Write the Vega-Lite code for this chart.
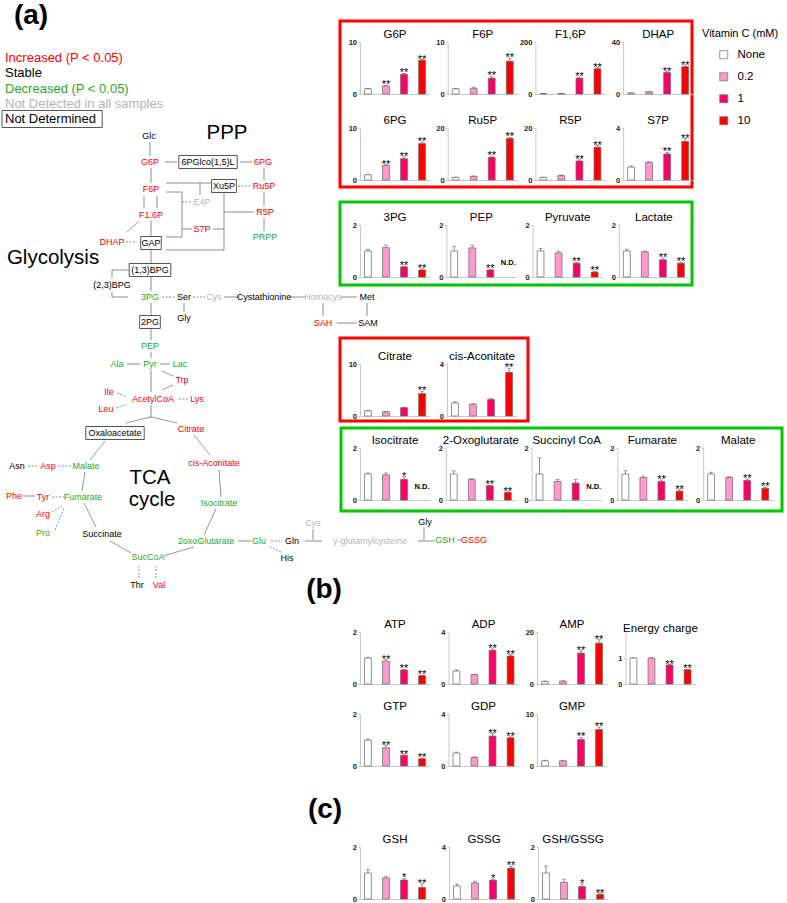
{
"$schema":"https://vega.github.io/schema/vega-lite/v6.json",
"background":"white",
"padding":0,
"autosize":{"type":"pad"},
"config":{
 "font":"Liberation Sans",
 "view":{"stroke":null},
 "axis":{"grid":false,"domainColor":"#c8c8c8","tickColor":"#c8c8c8","tickSize":2,"labelFontSize":7.5,"labelFontWeight":"bold","labelPadding":1.5,"labelColor":"#222222"},
 "axisY":{"minExtent":15},
 "axisX":{"labels":false,"ticks":false},
 "title":{"fontSize":11.5,"fontWeight":"normal","offset":-2},
 "range":{"category":["#ffffff","#ff99cc","#ff0066","#ff0000"]},
 "legend":{"orient":"none","legendX":702,"legendY":28,"symbolType":"square","symbolSize":64,"symbolStrokeColor":"#777777","symbolStrokeWidth":0.8,"labelFontSize":11.5,"titleFontSize":11,"titleFontWeight":"normal","titleColor":"#000000","labelColor":"#000000","rowPadding":9,"symbolOffset":16,"labelOffset":8,"titlePadding":10}
},
"datasets":{
 "frames":[
  {"x":340,"y":21,"x2":692,"y2":187,"s":"inc"},
  {"x":340,"y":202,"x2":692,"y2":285,"s":"dec"},
  {"x":340,"y":338,"x2":528,"y2":421,"s":"inc"},
  {"x":341,"y":428,"x2":782,"y2":511,"s":"dec"}
 ],
 "nodes":[
  {"l":"(a)","x":31,"y":16,"s":"stable","k":"lab"},
  {"l":"(b)","x":324,"y":590,"s":"stable","k":"lab"},
  {"l":"(c)","x":325,"y":810,"s":"stable","k":"lab"},
  {"l":"Increased (P < 0.05)","x":5,"y":58,"s":"inc","k":"leg"},
  {"l":"Stable","x":5,"y":73,"s":"stable","k":"leg"},
  {"l":"Decreased (P < 0.05)","x":5,"y":89,"s":"dec","k":"leg"},
  {"l":"Not Detected in all samples","x":5,"y":104,"s":"nd","k":"leg"},
  {"l":"Not Determined","x":5,"y":119,"s":"box","k":"leg"},
  {"l":"PPP","x":227,"y":133,"s":"stable","k":"big"},
  {"l":"Glycolysis","x":53,"y":258,"s":"stable","k":"big"},
  {"l":"TCA","x":150,"y":478,"s":"stable","k":"big"},
  {"l":"cycle","x":152,"y":500,"s":"stable","k":"big"},
  {"l":"Glc","x":149,"y":136,"s":"stable","k":"n"},
  {"l":"G6P","x":150,"y":162,"s":"inc","k":"n"},
  {"l":"6PGlco(1,5)L","x":208,"y":162,"s":"box","k":"n"},
  {"l":"6PG","x":263,"y":162,"s":"inc","k":"n"},
  {"l":"F6P","x":151,"y":189,"s":"inc","k":"n"},
  {"l":"Xu5P","x":224,"y":186,"s":"box","k":"n"},
  {"l":"Ru5P","x":264,"y":186,"s":"inc","k":"n"},
  {"l":"E4P","x":202,"y":202,"s":"nd","k":"n"},
  {"l":"R5P","x":265,"y":212,"s":"inc","k":"n"},
  {"l":"F1,6P","x":151,"y":215,"s":"inc","k":"n"},
  {"l":"S7P","x":202,"y":229,"s":"inc","k":"n"},
  {"l":"PRPP","x":265,"y":237,"s":"dec","k":"n"},
  {"l":"DHAP","x":112,"y":242,"s":"inc","k":"n"},
  {"l":"GAP","x":151,"y":243,"s":"box","k":"n"},
  {"l":"(1,3)BPG","x":150,"y":270,"s":"box","k":"n"},
  {"l":"(2,3)BPG","x":112,"y":285,"s":"stable","k":"n"},
  {"l":"3PG","x":150,"y":297,"s":"dec","k":"n"},
  {"l":"Ser","x":184,"y":297,"s":"stable","k":"n"},
  {"l":"Cys","x":214,"y":297,"s":"nd","k":"n"},
  {"l":"Cystathionine","x":264,"y":297,"s":"stable","k":"n"},
  {"l":"Homocys","x":323,"y":297,"s":"nd","k":"n"},
  {"l":"Met","x":367,"y":297,"s":"stable","k":"n"},
  {"l":"Gly","x":184,"y":318,"s":"stable","k":"n"},
  {"l":"2PG","x":150,"y":322,"s":"box","k":"n"},
  {"l":"SAH","x":323,"y":323,"s":"inc","k":"n"},
  {"l":"SAM","x":368,"y":323,"s":"stable","k":"n"},
  {"l":"PEP","x":150,"y":346,"s":"dec","k":"n"},
  {"l":"Ala","x":117,"y":364,"s":"dec","k":"n"},
  {"l":"Pyr","x":150,"y":364,"s":"dec","k":"n"},
  {"l":"Lac","x":180,"y":364,"s":"dec","k":"n"},
  {"l":"Trp","x":182,"y":380,"s":"inc","k":"n"},
  {"l":"Ile","x":109,"y":392,"s":"inc","k":"n"},
  {"l":"AcetylCoA","x":153,"y":399,"s":"inc","k":"n"},
  {"l":"Lys","x":197,"y":399,"s":"inc","k":"n"},
  {"l":"Leu","x":106,"y":409,"s":"inc","k":"n"},
  {"l":"Oxaloacetate","x":115,"y":433,"s":"box","k":"n"},
  {"l":"Citrate","x":191,"y":429,"s":"inc","k":"n"},
  {"l":"Asn","x":17,"y":466,"s":"stable","k":"n"},
  {"l":"Asp","x":48,"y":466,"s":"inc","k":"n"},
  {"l":"Malate","x":86,"y":466,"s":"dec","k":"n"},
  {"l":"cis-Aconitate","x":214,"y":463,"s":"inc","k":"n"},
  {"l":"Phe","x":14,"y":496,"s":"inc","k":"n"},
  {"l":"Tyr","x":43,"y":497,"s":"inc","k":"n"},
  {"l":"Fumarate","x":83,"y":497,"s":"dec","k":"n"},
  {"l":"Isocitrate","x":219,"y":503,"s":"dec","k":"n"},
  {"l":"Arg","x":43,"y":514,"s":"inc","k":"n"},
  {"l":"Pro","x":43,"y":533,"s":"dec","k":"n"},
  {"l":"Succinate","x":102,"y":534,"s":"stable","k":"n"},
  {"l":"Cys","x":313,"y":523,"s":"nd","k":"n"},
  {"l":"Gly","x":425,"y":522,"s":"stable","k":"n"},
  {"l":"2oxoGlutarate","x":206,"y":541,"s":"dec","k":"n"},
  {"l":"Glu","x":259,"y":541,"s":"dec","k":"n"},
  {"l":"Gln","x":292,"y":541,"s":"stable","k":"n"},
  {"l":"γ-glutamylcysteine","x":370,"y":541,"s":"nd","k":"n"},
  {"l":"GSH","x":445,"y":540,"s":"dec","k":"n"},
  {"l":"GSSG","x":474,"y":540,"s":"inc","k":"n"},
  {"l":"SucCoA","x":148,"y":557,"s":"dec","k":"n"},
  {"l":"His","x":287,"y":558,"s":"stable","k":"n"},
  {"l":"Thr","x":137,"y":585,"s":"stable","k":"n"},
  {"l":"Val","x":159,"y":585,"s":"inc","k":"n"}
 ],
 "edges":[
  {"x":150,"y":142,"x2":150,"y2":156,"d":"s"},
  {"x":165,"y":162,"x2":177,"y2":162,"d":"s"},
  {"x":240,"y":162,"x2":252,"y2":162,"d":"s"},
  {"x":264,"y":168,"x2":264,"y2":180,"d":"s"},
  {"x":151,"y":168,"x2":151,"y2":183,"d":"s"},
  {"x":238,"y":186,"x2":251,"y2":186,"d":"d"},
  {"x":264,"y":192,"x2":264,"y2":206,"d":"s"},
  {"x":264,"y":218,"x2":264,"y2":231,"d":"s"},
  {"x":157,"y":196,"x2":157,"y2":208,"d":"s"},
  {"x":144,"y":208,"x2":144,"y2":196,"d":"s"},
  {"x":151,"y":221,"x2":151,"y2":236,"d":"s"},
  {"x":127,"y":232,"x2":139,"y2":221,"d":"s"},
  {"x":126,"y":242,"x2":137,"y2":242,"d":"d"},
  {"x":151,"y":250,"x2":151,"y2":263,"d":"s"},
  {"x":151,"y":277,"x2":151,"y2":291,"d":"s"},
  {"x":151,"y":303,"x2":151,"y2":315,"d":"s"},
  {"x":151,"y":329,"x2":151,"y2":340,"d":"s"},
  {"x":151,"y":352,"x2":151,"y2":358,"d":"s"},
  {"x":129,"y":270,"x2":112,"y2":270,"d":"s"},
  {"x":112,"y":270,"x2":112,"y2":278,"d":"s"},
  {"x":112,"y":292,"x2":112,"y2":297,"d":"s"},
  {"x":112,"y":297,"x2":128,"y2":297,"d":"s"},
  {"x":166,"y":183,"x2":211,"y2":183,"d":"s"},
  {"x":200,"y":183,"x2":200,"y2":195,"d":"s"},
  {"x":166,"y":192,"x2":182,"y2":192,"d":"s"},
  {"x":182,"y":192,"x2":182,"y2":237,"d":"s"},
  {"x":182,"y":237,"x2":166,"y2":237,"d":"s"},
  {"x":182,"y":202,"x2":193,"y2":202,"d":"d"},
  {"x":182,"y":229,"x2":192,"y2":229,"d":"s"},
  {"x":224,"y":193,"x2":224,"y2":250,"d":"s"},
  {"x":224,"y":250,"x2":166,"y2":250,"d":"s"},
  {"x":224,"y":212,"x2":254,"y2":212,"d":"s"},
  {"x":224,"y":229,"x2":213,"y2":229,"d":"s"},
  {"x":162,"y":297,"x2":176,"y2":297,"d":"d"},
  {"x":193,"y":297,"x2":205,"y2":297,"d":"d"},
  {"x":240,"y":297,"x2":224,"y2":297,"d":"s"},
  {"x":305,"y":297,"x2":289,"y2":297,"d":"s"},
  {"x":341,"y":297,"x2":357,"y2":297,"d":"s"},
  {"x":367,"y":303,"x2":367,"y2":316,"d":"s"},
  {"x":357,"y":323,"x2":337,"y2":323,"d":"s"},
  {"x":323,"y":316,"x2":323,"y2":303,"d":"s"},
  {"x":184,"y":303,"x2":184,"y2":312,"d":"s"},
  {"x":127,"y":364,"x2":140,"y2":364,"d":"s"},
  {"x":160,"y":364,"x2":170,"y2":364,"d":"s"},
  {"x":151,"y":370,"x2":151,"y2":392,"d":"s"},
  {"x":173,"y":376,"x2":162,"y2":371,"d":"s"},
  {"x":173,"y":385,"x2":162,"y2":390,"d":"s"},
  {"x":117,"y":393,"x2":127,"y2":397,"d":"d"},
  {"x":117,"y":408,"x2":127,"y2":404,"d":"d"},
  {"x":188,"y":399,"x2":178,"y2":399,"d":"d"},
  {"x":151,"y":405,"x2":151,"y2":417,"d":"s"},
  {"x":151,"y":417,"x2":126,"y2":423,"d":"s"},
  {"x":151,"y":417,"x2":177,"y2":423,"d":"s"},
  {"x":194,"y":435,"x2":210,"y2":455,"d":"s"},
  {"x":219,"y":470,"x2":221,"y2":497,"d":"s"},
  {"x":216,"y":509,"x2":204,"y2":535,"d":"s"},
  {"x":194,"y":547,"x2":163,"y2":556,"d":"s"},
  {"x":131,"y":553,"x2":110,"y2":541,"d":"s"},
  {"x":96,"y":527,"x2":84,"y2":503,"d":"s"},
  {"x":82,"y":491,"x2":85,"y2":472,"d":"s"},
  {"x":90,"y":460,"x2":105,"y2":441,"d":"s"},
  {"x":28,"y":466,"x2":37,"y2":466,"d":"d"},
  {"x":58,"y":466,"x2":71,"y2":466,"d":"d"},
  {"x":23,"y":496,"x2":35,"y2":496,"d":"s"},
  {"x":52,"y":497,"x2":64,"y2":497,"d":"d"},
  {"x":52,"y":512,"x2":62,"y2":506,"d":"d"},
  {"x":55,"y":530,"x2":64,"y2":508,"d":"d"},
  {"x":139,"y":578,"x2":139,"y2":566,"d":"d"},
  {"x":156,"y":578,"x2":156,"y2":566,"d":"d"},
  {"x":238,"y":541,"x2":251,"y2":541,"d":"s"},
  {"x":271,"y":541,"x2":282,"y2":541,"d":"d"},
  {"x":281,"y":552,"x2":268,"y2":546,"d":"d"},
  {"x":305,"y":541,"x2":322,"y2":541,"d":"s"},
  {"x":313,"y":529,"x2":313,"y2":540,"d":"s"},
  {"x":418,"y":541,"x2":435,"y2":541,"d":"s"},
  {"x":424,"y":527,"x2":424,"y2":540,"d":"s"},
  {"x":457,"y":540,"x2":462,"y2":540,"d":"s"}
 ],
 "bars":[
  {"m":"G6P","c":"None","v":1.0,"e":0.08},{"m":"G6P","c":"0.2","v":1.55,"e":0.12,"g":"**"},{"m":"G6P","c":"1","v":3.8,"e":0.15,"g":"**"},{"m":"G6P","c":"10","v":6.5,"e":0.12,"g":"**"},
  {"m":"F6P","c":"None","v":1.0,"e":0.08},{"m":"F6P","c":"0.2","v":1.1,"e":0.2},{"m":"F6P","c":"1","v":3.05,"e":0.35,"g":"**"},{"m":"F6P","c":"10","v":6.3,"e":0.6,"g":"**"},
  {"m":"F1,6P","c":"None","v":1.5,"e":0.3},{"m":"F1,6P","c":"0.2","v":1.5,"e":0.3},{"m":"F1,6P","c":"1","v":61,"e":3,"g":"**"},{"m":"F1,6P","c":"10","v":97,"e":4,"g":"**"},
  {"m":"DHAP","c":"None","v":0.8,"e":0.2},{"m":"DHAP","c":"0.2","v":1.7,"e":0.3},{"m":"DHAP","c":"1","v":16.5,"e":0.6,"g":"**"},{"m":"DHAP","c":"10","v":21,"e":0.5,"g":"**"},
  {"m":"6PG","c":"None","v":1.0,"e":0.08},{"m":"6PG","c":"0.2","v":2.8,"e":0.12,"g":"**"},{"m":"6PG","c":"1","v":4.1,"e":0.35,"g":"**"},{"m":"6PG","c":"10","v":7.0,"e":0.3,"g":"**"},
  {"m":"Ru5P","c":"None","v":1.0,"e":0.1},{"m":"Ru5P","c":"0.2","v":1.4,"e":0.15},{"m":"Ru5P","c":"1","v":8.7,"e":0.45,"g":"**"},{"m":"Ru5P","c":"10","v":16,"e":0.4,"g":"**"},
  {"m":"R5P","c":"None","v":1.0,"e":0.1},{"m":"R5P","c":"0.2","v":1.7,"e":0.2},{"m":"R5P","c":"1","v":7.3,"e":0.45,"g":"**"},{"m":"R5P","c":"10","v":12.6,"e":0.6,"g":"**"},
  {"m":"S7P","c":"None","v":1.0,"e":0.08},{"m":"S7P","c":"0.2","v":1.35,"e":0.05},{"m":"S7P","c":"1","v":2.0,"e":0.12,"g":"**"},{"m":"S7P","c":"10","v":2.97,"e":0.22,"g":"**"},
  {"m":"3PG","c":"None","v":1.0,"e":0.07},{"m":"3PG","c":"0.2","v":1.13,"e":0.1},{"m":"3PG","c":"1","v":0.39,"e":0.03,"g":"**"},{"m":"3PG","c":"10","v":0.27,"e":0.04,"g":"**"},
  {"m":"PEP","c":"None","v":1.0,"e":0.18},{"m":"PEP","c":"0.2","v":1.12,"e":0.1},{"m":"PEP","c":"1","v":0.27,"e":0.03,"g":"**"},{"m":"PEP","c":"10","nd":"N.D."},
  {"m":"Pyruvate","c":"None","v":1.0,"e":0.1},{"m":"Pyruvate","c":"0.2","v":0.93,"e":0.07},{"m":"Pyruvate","c":"1","v":0.53,"e":0.03,"g":"**"},{"m":"Pyruvate","c":"10","v":0.19,"e":0.03,"g":"**"},
  {"m":"Lactate","c":"None","v":1.0,"e":0.07},{"m":"Lactate","c":"0.2","v":0.97,"e":0.03},{"m":"Lactate","c":"1","v":0.66,"e":0.07,"g":"**"},{"m":"Lactate","c":"10","v":0.53,"e":0.04,"g":"**"},
  {"m":"Citrate","c":"None","v":1.0,"e":0.08},{"m":"Citrate","c":"0.2","v":0.8,"e":0.05},{"m":"Citrate","c":"1","v":1.6,"e":0.1},{"m":"Citrate","c":"10","v":4.3,"e":0.45,"g":"**"},
  {"m":"cis-Aconitate","c":"None","v":1.0,"e":0.1},{"m":"cis-Aconitate","c":"0.2","v":0.9,"e":0.04},{"m":"cis-Aconitate","c":"1","v":1.27,"e":0.06},{"m":"cis-Aconitate","c":"10","v":3.35,"e":0.33,"g":"**"},
  {"m":"Isocitrate","c":"None","v":1.0,"e":0.04},{"m":"Isocitrate","c":"0.2","v":0.97,"e":0.07},{"m":"Isocitrate","c":"1","v":0.79,"e":0.1,"g":"*"},{"m":"Isocitrate","c":"10","nd":"N.D."},
  {"m":"2-Oxoglutarate","c":"None","v":1.0,"e":0.12},{"m":"2-Oxoglutarate","c":"0.2","v":0.79,"e":0.03},{"m":"2-Oxoglutarate","c":"1","v":0.55,"e":0.02,"g":"**"},{"m":"2-Oxoglutarate","c":"10","v":0.29,"e":0.02,"g":"**"},
  {"m":"Succinyl CoA","c":"None","v":1.0,"e":0.62},{"m":"Succinyl CoA","c":"0.2","v":0.71,"e":0.08},{"m":"Succinyl CoA","c":"1","v":0.65,"e":0.14},{"m":"Succinyl CoA","c":"10","nd":"N.D."},
  {"m":"Fumarate","c":"None","v":1.0,"e":0.13},{"m":"Fumarate","c":"0.2","v":0.86,"e":0.06},{"m":"Fumarate","c":"1","v":0.71,"e":0.06,"g":"**"},{"m":"Fumarate","c":"10","v":0.34,"e":0.05,"g":"**"},
  {"m":"Malate","c":"None","v":1.0,"e":0.07},{"m":"Malate","c":"0.2","v":0.87,"e":0.02},{"m":"Malate","c":"1","v":0.75,"e":0.05,"g":"**"},{"m":"Malate","c":"10","v":0.45,"e":0.04,"g":"**"},
  {"m":"ATP","c":"None","v":1.0,"e":0.03},{"m":"ATP","c":"0.2","v":0.88,"e":0.05,"g":"**"},{"m":"ATP","c":"1","v":0.54,"e":0.02,"g":"**"},{"m":"ATP","c":"10","v":0.32,"e":0.02,"g":"**"},
  {"m":"ADP","c":"None","v":1.0,"e":0.1},{"m":"ADP","c":"0.2","v":0.72,"e":0.03},{"m":"ADP","c":"1","v":2.6,"e":0.1,"g":"**"},{"m":"ADP","c":"10","v":2.15,"e":0.1,"g":"**"},
  {"m":"AMP","c":"None","v":1.0,"e":0.15},{"m":"AMP","c":"0.2","v":1.1,"e":0.1},{"m":"AMP","c":"1","v":11.9,"e":0.8,"g":"**"},{"m":"AMP","c":"10","v":15.7,"e":1.3,"g":"**"},
  {"m":"Energy charge","c":"None","v":1.0,"e":0.01},{"m":"Energy charge","c":"0.2","v":1.0,"e":0.01},{"m":"Energy charge","c":"1","v":0.73,"e":0.02,"g":"**"},{"m":"Energy charge","c":"10","v":0.55,"e":0.02,"g":"**"},
  {"m":"GTP","c":"None","v":1.0,"e":0.03},{"m":"GTP","c":"0.2","v":0.7,"e":0.08,"g":"**"},{"m":"GTP","c":"1","v":0.41,"e":0.02,"g":"**"},{"m":"GTP","c":"10","v":0.28,"e":0.02,"g":"**"},
  {"m":"GDP","c":"None","v":1.0,"e":0.07},{"m":"GDP","c":"0.2","v":0.66,"e":0.04},{"m":"GDP","c":"1","v":2.3,"e":0.2,"g":"**"},{"m":"GDP","c":"10","v":2.17,"e":0.07,"g":"**"},
  {"m":"GMP","c":"None","v":1.0,"e":0.1},{"m":"GMP","c":"0.2","v":1.0,"e":0.05},{"m":"GMP","c":"1","v":5.1,"e":0.4,"g":"**"},{"m":"GMP","c":"10","v":7.0,"e":0.5,"g":"**"},
  {"m":"GSH","c":"None","v":1.0,"e":0.14},{"m":"GSH","c":"0.2","v":0.81,"e":0.05},{"m":"GSH","c":"1","v":0.73,"e":0.07,"g":"*"},{"m":"GSH","c":"10","v":0.44,"e":0.14,"g":"**"},
  {"m":"GSSG","c":"None","v":1.0,"e":0.15},{"m":"GSSG","c":"0.2","v":1.24,"e":0.13},{"m":"GSSG","c":"1","v":1.45,"e":0.08,"g":"*"},{"m":"GSSG","c":"10","v":2.37,"e":0.15,"g":"**"},
  {"m":"GSH/GSSG","c":"None","v":1.0,"e":0.27},{"m":"GSH/GSSG","c":"0.2","v":0.64,"e":0.12},{"m":"GSH/GSSG","c":"1","v":0.48,"e":0.1,"g":"*"},{"m":"GSH/GSSG","c":"10","v":0.17,"e":0.04,"g":"**"}
 ]
},
"bounds":"flush",
"spacing":30,
"hconcat":[
 {
  "width":330,"height":600,
  "encoding":{
   "x":{"field":"x","type":"quantitative","scale":{"domain":[0,330],"nice":false,"zero":false},"axis":null},
   "y":{"field":"y","type":"quantitative","scale":{"domain":[0,600],"nice":false,"zero":false,"reverse":true},"axis":null}
  },
  "layer":[
   {"data":{"name":"frames"},"mark":{"type":"rect","fillOpacity":0,"strokeWidth":3},
    "encoding":{"x2":{"field":"x2"},"y2":{"field":"y2"},"stroke":{"field":"s","type":"nominal","scale":{"domain":["inc","dec"],"range":["#ff0000","#00c800"]},"legend":null}}},
   {"data":{"name":"edges"},"mark":{"type":"rule","color":"#6e6e6e","strokeWidth":0.8},
    "encoding":{"x2":{"field":"x2"},"y2":{"field":"y2"},"strokeDash":{"field":"d","type":"nominal","scale":{"domain":["s","d"],"range":[[1,0],[2,1.5]]},"legend":null}}},
   {"data":{"name":"nodes"},
    "transform":[{"filter":"datum.s==='box'"},
     {"calculate":"datum.k==='leg' ? 6.8*length(datum.l)+5 : 4.2*length(datum.l)+8","as":"bw"},
     {"calculate":"datum.k==='leg' ? datum.x-3 : datum.x-datum.bw/2","as":"xa"},
     {"calculate":"datum.xa+datum.bw","as":"x2"},
     {"calculate":"datum.xa","as":"x"},
     {"calculate":"datum.k==='leg' ? 8.5 : 6.5","as":"hh"},
     {"calculate":"datum.y+datum.hh","as":"y2"},
     {"calculate":"datum.y-datum.hh","as":"y"}],
    "mark":{"type":"rect","fill":"#ffffff","stroke":"#555555","strokeWidth":1},
    "encoding":{"x2":{"field":"x2"},"y2":{"field":"y2"}}},
   {"data":{"name":"nodes"},"transform":[{"filter":"datum.k==='n'"}],
    "mark":{"type":"text","fontSize":9,"align":"center","baseline":"middle"},
    "encoding":{"text":{"field":"l"},"color":{"field":"s","type":"nominal","scale":{"domain":["inc","stable","dec","nd","box"],"range":["#ff0000","#000000","#1fa81f","#b4b4b4","#000000"]},"legend":null}}},
   {"data":{"name":"nodes"},"transform":[{"filter":"datum.k==='big'"}],
    "mark":{"type":"text","fontSize":20.5,"align":"center","baseline":"middle"},
    "encoding":{"text":{"field":"l"},"color":{"field":"s","type":"nominal","legend":null}}},
   {"data":{"name":"nodes"},"transform":[{"filter":"datum.k==='lab'"}],
    "mark":{"type":"text","fontSize":28,"fontWeight":"bold","align":"center","baseline":"middle"},
    "encoding":{"text":{"field":"l"},"color":{"field":"s","type":"nominal","legend":null}}},
   {"data":{"name":"nodes"},"transform":[{"filter":"datum.k==='leg'"}],
    "mark":{"type":"text","fontSize":13,"align":"left","baseline":"middle"},
    "encoding":{"text":{"field":"l"},"color":{"field":"s","type":"nominal","legend":null}}}
  ]
 },
 {
  "data":{"name":"bars"},
  "transform":[{"calculate":"isValid(datum.v) ? datum.v + datum.e : null","as":"hi"}],
  "spacing":0,
  "vconcat":[
   {"width":10,"height":28,"mark":{"type":"point","opacity":0,"size":1}},
   {"bounds":"flush","spacing":17.7,"hconcat":[
    {"title":"G6P","width":70,"height":52,"transform":[{"filter":"datum.m==='G6P'"}],
     "encoding":{"x":{"field":"c","type":"nominal","title":null,"scale":{"domain":["None","0.2","1","10"],"paddingInner":0.62,"paddingOuter":0.25}}},
     "layer":[{"mark":{"type":"bar","stroke":"#666666","strokeWidth":0.7},"encoding":{"y":{"field":"v","type":"quantitative","title":null,"scale":{"domain":[0,10],"nice":false},"axis":{"values":[0,5,10],"format":"d"}},"fill":{"field":"c","type":"nominal","title":"Vitamin C (mM)","scale":{"domain":["None","0.2","1","10"]}}}},
      {"mark":{"type":"rule","color":"#666666","strokeWidth":0.8},"encoding":{"y":{"field":"v","type":"quantitative","title":null},"y2":{"field":"hi"}}},
      {"mark":{"type":"tick","color":"#666666","thickness":0.8,"size":4},"encoding":{"y":{"field":"hi","type":"quantitative","title":null}}},
      {"transform":[{"filter":"isValid(datum.g)"}],"mark":{"type":"text","fill":"#000000","baseline":"alphabetic","dy":3,"fontSize":11},"encoding":{"y":{"field":"hi","type":"quantitative","title":null},"text":{"field":"g"}}}]},
    {"title":"F6P","width":70,"height":52,"transform":[{"filter":"datum.m==='F6P'"}],
     "encoding":{"x":{"field":"c","type":"nominal","title":null,"scale":{"domain":["None","0.2","1","10"],"paddingInner":0.62,"paddingOuter":0.25}}},
     "layer":[{"mark":{"type":"bar","stroke":"#666666","strokeWidth":0.7},"encoding":{"y":{"field":"v","type":"quantitative","title":null,"scale":{"domain":[0,10],"nice":false},"axis":{"values":[0,5,10],"format":"d"}},"fill":{"field":"c","type":"nominal","title":"Vitamin C (mM)","scale":{"domain":["None","0.2","1","10"]}}}},
      {"mark":{"type":"rule","color":"#666666","strokeWidth":0.8},"encoding":{"y":{"field":"v","type":"quantitative","title":null},"y2":{"field":"hi"}}},
      {"mark":{"type":"tick","color":"#666666","thickness":0.8,"size":4},"encoding":{"y":{"field":"hi","type":"quantitative","title":null}}},
      {"transform":[{"filter":"isValid(datum.g)"}],"mark":{"type":"text","fill":"#000000","baseline":"alphabetic","dy":3,"fontSize":11},"encoding":{"y":{"field":"hi","type":"quantitative","title":null},"text":{"field":"g"}}}]},
    {"title":"F1,6P","width":70,"height":52,"transform":[{"filter":"datum.m==='F1,6P'"}],
     "encoding":{"x":{"field":"c","type":"nominal","title":null,"scale":{"domain":["None","0.2","1","10"],"paddingInner":0.62,"paddingOuter":0.25}}},
     "layer":[{"mark":{"type":"bar","stroke":"#666666","strokeWidth":0.7},"encoding":{"y":{"field":"v","type":"quantitative","title":null,"scale":{"domain":[0,200],"nice":false},"axis":{"values":[0,100,200],"format":"d"}},"fill":{"field":"c","type":"nominal","title":"Vitamin C (mM)","scale":{"domain":["None","0.2","1","10"]}}}},
      {"mark":{"type":"rule","color":"#666666","strokeWidth":0.8},"encoding":{"y":{"field":"v","type":"quantitative","title":null},"y2":{"field":"hi"}}},
      {"mark":{"type":"tick","color":"#666666","thickness":0.8,"size":4},"encoding":{"y":{"field":"hi","type":"quantitative","title":null}}},
      {"transform":[{"filter":"isValid(datum.g)"}],"mark":{"type":"text","fill":"#000000","baseline":"alphabetic","dy":3,"fontSize":11},"encoding":{"y":{"field":"hi","type":"quantitative","title":null},"text":{"field":"g"}}}]},
    {"title":"DHAP","width":70,"height":52,"transform":[{"filter":"datum.m==='DHAP'"}],
     "encoding":{"x":{"field":"c","type":"nominal","title":null,"scale":{"domain":["None","0.2","1","10"],"paddingInner":0.62,"paddingOuter":0.25}}},
     "layer":[{"mark":{"type":"bar","stroke":"#666666","strokeWidth":0.7},"encoding":{"y":{"field":"v","type":"quantitative","title":null,"scale":{"domain":[0,40],"nice":false},"axis":{"values":[0,20,40],"format":"d"}},"fill":{"field":"c","type":"nominal","title":"Vitamin C (mM)","scale":{"domain":["None","0.2","1","10"]}}}},
      {"mark":{"type":"rule","color":"#666666","strokeWidth":0.8},"encoding":{"y":{"field":"v","type":"quantitative","title":null},"y2":{"field":"hi"}}},
      {"mark":{"type":"tick","color":"#666666","thickness":0.8,"size":4},"encoding":{"y":{"field":"hi","type":"quantitative","title":null}}},
      {"transform":[{"filter":"isValid(datum.g)"}],"mark":{"type":"text","fill":"#000000","baseline":"alphabetic","dy":3,"fontSize":11},"encoding":{"y":{"field":"hi","type":"quantitative","title":null},"text":{"field":"g"}}}]}
   ]},
   {"width":10,"height":16,"mark":{"type":"point","opacity":0,"size":1}},
   {"bounds":"flush","spacing":17.7,"hconcat":[
    {"title":"6PG","width":70,"height":52,"transform":[{"filter":"datum.m==='6PG'"}],
     "encoding":{"x":{"field":"c","type":"nominal","title":null,"scale":{"domain":["None","0.2","1","10"],"paddingInner":0.62,"paddingOuter":0.25}}},
     "layer":[{"mark":{"type":"bar","stroke":"#666666","strokeWidth":0.7},"encoding":{"y":{"field":"v","type":"quantitative","title":null,"scale":{"domain":[0,10],"nice":false},"axis":{"values":[0,5,10],"format":"d"}},"fill":{"field":"c","type":"nominal","title":"Vitamin C (mM)","scale":{"domain":["None","0.2","1","10"]}}}},
      {"mark":{"type":"rule","color":"#666666","strokeWidth":0.8},"encoding":{"y":{"field":"v","type":"quantitative","title":null},"y2":{"field":"hi"}}},
      {"mark":{"type":"tick","color":"#666666","thickness":0.8,"size":4},"encoding":{"y":{"field":"hi","type":"quantitative","title":null}}},
      {"transform":[{"filter":"isValid(datum.g)"}],"mark":{"type":"text","fill":"#000000","baseline":"alphabetic","dy":3,"fontSize":11},"encoding":{"y":{"field":"hi","type":"quantitative","title":null},"text":{"field":"g"}}}]},
    {"title":"Ru5P","width":70,"height":52,"transform":[{"filter":"datum.m==='Ru5P'"}],
     "encoding":{"x":{"field":"c","type":"nominal","title":null,"scale":{"domain":["None","0.2","1","10"],"paddingInner":0.62,"paddingOuter":0.25}}},
     "layer":[{"mark":{"type":"bar","stroke":"#666666","strokeWidth":0.7},"encoding":{"y":{"field":"v","type":"quantitative","title":null,"scale":{"domain":[0,20],"nice":false},"axis":{"values":[0,10,20],"format":"d"}},"fill":{"field":"c","type":"nominal","title":"Vitamin C (mM)","scale":{"domain":["None","0.2","1","10"]}}}},
      {"mark":{"type":"rule","color":"#666666","strokeWidth":0.8},"encoding":{"y":{"field":"v","type":"quantitative","title":null},"y2":{"field":"hi"}}},
      {"mark":{"type":"tick","color":"#666666","thickness":0.8,"size":4},"encoding":{"y":{"field":"hi","type":"quantitative","title":null}}},
      {"transform":[{"filter":"isValid(datum.g)"}],"mark":{"type":"text","fill":"#000000","baseline":"alphabetic","dy":3,"fontSize":11},"encoding":{"y":{"field":"hi","type":"quantitative","title":null},"text":{"field":"g"}}}]},
    {"title":"R5P","width":70,"height":52,"transform":[{"filter":"datum.m==='R5P'"}],
     "encoding":{"x":{"field":"c","type":"nominal","title":null,"scale":{"domain":["None","0.2","1","10"],"paddingInner":0.62,"paddingOuter":0.25}}},
     "layer":[{"mark":{"type":"bar","stroke":"#666666","strokeWidth":0.7},"encoding":{"y":{"field":"v","type":"quantitative","title":null,"scale":{"domain":[0,20],"nice":false},"axis":{"values":[0,10,20],"format":"d"}},"fill":{"field":"c","type":"nominal","title":"Vitamin C (mM)","scale":{"domain":["None","0.2","1","10"]}}}},
      {"mark":{"type":"rule","color":"#666666","strokeWidth":0.8},"encoding":{"y":{"field":"v","type":"quantitative","title":null},"y2":{"field":"hi"}}},
      {"mark":{"type":"tick","color":"#666666","thickness":0.8,"size":4},"encoding":{"y":{"field":"hi","type":"quantitative","title":null}}},
      {"transform":[{"filter":"isValid(datum.g)"}],"mark":{"type":"text","fill":"#000000","baseline":"alphabetic","dy":3,"fontSize":11},"encoding":{"y":{"field":"hi","type":"quantitative","title":null},"text":{"field":"g"}}}]},
    {"title":"S7P","width":70,"height":52,"transform":[{"filter":"datum.m==='S7P'"}],
     "encoding":{"x":{"field":"c","type":"nominal","title":null,"scale":{"domain":["None","0.2","1","10"],"paddingInner":0.62,"paddingOuter":0.25}}},
     "layer":[{"mark":{"type":"bar","stroke":"#666666","strokeWidth":0.7},"encoding":{"y":{"field":"v","type":"quantitative","title":null,"scale":{"domain":[0,4],"nice":false},"axis":{"values":[0,2,4],"format":"d"}},"fill":{"field":"c","type":"nominal","title":"Vitamin C (mM)","scale":{"domain":["None","0.2","1","10"]}}}},
      {"mark":{"type":"rule","color":"#666666","strokeWidth":0.8},"encoding":{"y":{"field":"v","type":"quantitative","title":null},"y2":{"field":"hi"}}},
      {"mark":{"type":"tick","color":"#666666","thickness":0.8,"size":4},"encoding":{"y":{"field":"hi","type":"quantitative","title":null}}},
      {"transform":[{"filter":"isValid(datum.g)"}],"mark":{"type":"text","fill":"#000000","baseline":"alphabetic","dy":3,"fontSize":11},"encoding":{"y":{"field":"hi","type":"quantitative","title":null},"text":{"field":"g"}}}]}
   ]},
   {"width":10,"height":27,"mark":{"type":"point","opacity":0,"size":1}},
   {"bounds":"flush","spacing":16.3,"hconcat":[
    {"title":"3PG","width":70,"height":52,"transform":[{"filter":"datum.m==='3PG'"}],
     "encoding":{"x":{"field":"c","type":"nominal","title":null,"scale":{"domain":["None","0.2","1","10"],"paddingInner":0.62,"paddingOuter":0.25}}},
     "layer":[{"mark":{"type":"bar","stroke":"#666666","strokeWidth":0.7},"encoding":{"y":{"field":"v","type":"quantitative","title":null,"scale":{"domain":[0,2],"nice":false},"axis":{"values":[0,1,2],"format":"d"}},"fill":{"field":"c","type":"nominal","title":"Vitamin C (mM)","scale":{"domain":["None","0.2","1","10"]}}}},
      {"mark":{"type":"rule","color":"#666666","strokeWidth":0.8},"encoding":{"y":{"field":"v","type":"quantitative","title":null},"y2":{"field":"hi"}}},
      {"mark":{"type":"tick","color":"#666666","thickness":0.8,"size":4},"encoding":{"y":{"field":"hi","type":"quantitative","title":null}}},
      {"transform":[{"filter":"isValid(datum.g)"}],"mark":{"type":"text","fill":"#000000","baseline":"alphabetic","dy":3,"fontSize":11},"encoding":{"y":{"field":"hi","type":"quantitative","title":null},"text":{"field":"g"}}}]},
    {"title":"PEP","width":70,"height":52,"transform":[{"filter":"datum.m==='PEP'"}],
     "encoding":{"x":{"field":"c","type":"nominal","title":null,"scale":{"domain":["None","0.2","1","10"],"paddingInner":0.62,"paddingOuter":0.25}}},
     "layer":[{"mark":{"type":"bar","stroke":"#666666","strokeWidth":0.7},"encoding":{"y":{"field":"v","type":"quantitative","title":null,"scale":{"domain":[0,2],"nice":false},"axis":{"values":[0,1,2],"format":"d"}},"fill":{"field":"c","type":"nominal","title":"Vitamin C (mM)","scale":{"domain":["None","0.2","1","10"]}}}},
      {"mark":{"type":"rule","color":"#666666","strokeWidth":0.8},"encoding":{"y":{"field":"v","type":"quantitative","title":null},"y2":{"field":"hi"}}},
      {"mark":{"type":"tick","color":"#666666","thickness":0.8,"size":4},"encoding":{"y":{"field":"hi","type":"quantitative","title":null}}},
      {"transform":[{"filter":"isValid(datum.g)"}],"mark":{"type":"text","fill":"#000000","baseline":"alphabetic","dy":3,"fontSize":11},"encoding":{"y":{"field":"hi","type":"quantitative","title":null},"text":{"field":"g"}}},
      {"transform":[{"filter":"isValid(datum.nd)"}],"mark":{"type":"text","fill":"#000000","fontSize":7.5,"fontWeight":"bold","align":"center","baseline":"middle"},"encoding":{"y":{"datum":0.55,"type":"quantitative"},"text":{"field":"nd"}}}]},
    {"title":"Pyruvate","width":70,"height":52,"transform":[{"filter":"datum.m==='Pyruvate'"}],
     "encoding":{"x":{"field":"c","type":"nominal","title":null,"scale":{"domain":["None","0.2","1","10"],"paddingInner":0.62,"paddingOuter":0.25}}},
     "layer":[{"mark":{"type":"bar","stroke":"#666666","strokeWidth":0.7},"encoding":{"y":{"field":"v","type":"quantitative","title":null,"scale":{"domain":[0,2],"nice":false},"axis":{"values":[0,1,2],"format":"d"}},"fill":{"field":"c","type":"nominal","title":"Vitamin C (mM)","scale":{"domain":["None","0.2","1","10"]}}}},
      {"mark":{"type":"rule","color":"#666666","strokeWidth":0.8},"encoding":{"y":{"field":"v","type":"quantitative","title":null},"y2":{"field":"hi"}}},
      {"mark":{"type":"tick","color":"#666666","thickness":0.8,"size":4},"encoding":{"y":{"field":"hi","type":"quantitative","title":null}}},
      {"transform":[{"filter":"isValid(datum.g)"}],"mark":{"type":"text","fill":"#000000","baseline":"alphabetic","dy":3,"fontSize":11},"encoding":{"y":{"field":"hi","type":"quantitative","title":null},"text":{"field":"g"}}}]},
    {"title":"Lactate","width":70,"height":52,"transform":[{"filter":"datum.m==='Lactate'"}],
     "encoding":{"x":{"field":"c","type":"nominal","title":null,"scale":{"domain":["None","0.2","1","10"],"paddingInner":0.62,"paddingOuter":0.25}}},
     "layer":[{"mark":{"type":"bar","stroke":"#666666","strokeWidth":0.7},"encoding":{"y":{"field":"v","type":"quantitative","title":null,"scale":{"domain":[0,2],"nice":false},"axis":{"values":[0,1,2],"format":"d"}},"fill":{"field":"c","type":"nominal","title":"Vitamin C (mM)","scale":{"domain":["None","0.2","1","10"]}}}},
      {"mark":{"type":"rule","color":"#666666","strokeWidth":0.8},"encoding":{"y":{"field":"v","type":"quantitative","title":null},"y2":{"field":"hi"}}},
      {"mark":{"type":"tick","color":"#666666","thickness":0.8,"size":4},"encoding":{"y":{"field":"hi","type":"quantitative","title":null}}},
      {"transform":[{"filter":"isValid(datum.g)"}],"mark":{"type":"text","fill":"#000000","baseline":"alphabetic","dy":3,"fontSize":11},"encoding":{"y":{"field":"hi","type":"quantitative","title":null},"text":{"field":"g"}}}]}
   ]},
   {"width":10,"height":69,"mark":{"type":"point","opacity":0,"size":1}},
   {"bounds":"flush","spacing":17,"hconcat":[
    {"title":"Citrate","width":70,"height":52,"transform":[{"filter":"datum.m==='Citrate'"}],
     "encoding":{"x":{"field":"c","type":"nominal","title":null,"scale":{"domain":["None","0.2","1","10"],"paddingInner":0.62,"paddingOuter":0.25}}},
     "layer":[{"mark":{"type":"bar","stroke":"#666666","strokeWidth":0.7},"encoding":{"y":{"field":"v","type":"quantitative","title":null,"scale":{"domain":[0,10],"nice":false},"axis":{"values":[0,5,10],"format":"d"}},"fill":{"field":"c","type":"nominal","title":"Vitamin C (mM)","scale":{"domain":["None","0.2","1","10"]}}}},
      {"mark":{"type":"rule","color":"#666666","strokeWidth":0.8},"encoding":{"y":{"field":"v","type":"quantitative","title":null},"y2":{"field":"hi"}}},
      {"mark":{"type":"tick","color":"#666666","thickness":0.8,"size":4},"encoding":{"y":{"field":"hi","type":"quantitative","title":null}}},
      {"transform":[{"filter":"isValid(datum.g)"}],"mark":{"type":"text","fill":"#000000","baseline":"alphabetic","dy":3,"fontSize":11},"encoding":{"y":{"field":"hi","type":"quantitative","title":null},"text":{"field":"g"}}}]},
    {"title":"cis-Aconitate","width":70,"height":52,"transform":[{"filter":"datum.m==='cis-Aconitate'"}],
     "encoding":{"x":{"field":"c","type":"nominal","title":null,"scale":{"domain":["None","0.2","1","10"],"paddingInner":0.62,"paddingOuter":0.25}}},
     "layer":[{"mark":{"type":"bar","stroke":"#666666","strokeWidth":0.7},"encoding":{"y":{"field":"v","type":"quantitative","title":null,"scale":{"domain":[0,4],"nice":false},"axis":{"values":[0,2,4],"format":"d"}},"fill":{"field":"c","type":"nominal","title":"Vitamin C (mM)","scale":{"domain":["None","0.2","1","10"]}}}},
      {"mark":{"type":"rule","color":"#666666","strokeWidth":0.8},"encoding":{"y":{"field":"v","type":"quantitative","title":null},"y2":{"field":"hi"}}},
      {"mark":{"type":"tick","color":"#666666","thickness":0.8,"size":4},"encoding":{"y":{"field":"hi","type":"quantitative","title":null}}},
      {"transform":[{"filter":"isValid(datum.g)"}],"mark":{"type":"text","fill":"#000000","baseline":"alphabetic","dy":3,"fontSize":11},"encoding":{"y":{"field":"hi","type":"quantitative","title":null},"text":{"field":"g"}}}]}
   ]},
   {"width":10,"height":14,"mark":{"type":"point","opacity":0,"size":1}},
   {"bounds":"flush","spacing":15.8,"hconcat":[
    {"title":"Isocitrate","width":70,"height":52,"transform":[{"filter":"datum.m==='Isocitrate'"}],
     "encoding":{"x":{"field":"c","type":"nominal","title":null,"scale":{"domain":["None","0.2","1","10"],"paddingInner":0.62,"paddingOuter":0.25}}},
     "layer":[{"mark":{"type":"bar","stroke":"#666666","strokeWidth":0.7},"encoding":{"y":{"field":"v","type":"quantitative","title":null,"scale":{"domain":[0,2],"nice":false},"axis":{"values":[0,1,2],"format":"d"}},"fill":{"field":"c","type":"nominal","title":"Vitamin C (mM)","scale":{"domain":["None","0.2","1","10"]}}}},
      {"mark":{"type":"rule","color":"#666666","strokeWidth":0.8},"encoding":{"y":{"field":"v","type":"quantitative","title":null},"y2":{"field":"hi"}}},
      {"mark":{"type":"tick","color":"#666666","thickness":0.8,"size":4},"encoding":{"y":{"field":"hi","type":"quantitative","title":null}}},
      {"transform":[{"filter":"isValid(datum.g)"}],"mark":{"type":"text","fill":"#000000","baseline":"alphabetic","dy":3,"fontSize":11},"encoding":{"y":{"field":"hi","type":"quantitative","title":null},"text":{"field":"g"}}},
      {"transform":[{"filter":"isValid(datum.nd)"}],"mark":{"type":"text","fill":"#000000","fontSize":7.5,"fontWeight":"bold","align":"center","baseline":"middle"},"encoding":{"y":{"datum":0.5,"type":"quantitative"},"text":{"field":"nd"}}}]},
    {"title":"2-Oxoglutarate","width":70,"height":52,"transform":[{"filter":"datum.m==='2-Oxoglutarate'"}],
     "encoding":{"x":{"field":"c","type":"nominal","title":null,"scale":{"domain":["None","0.2","1","10"],"paddingInner":0.62,"paddingOuter":0.25}}},
     "layer":[{"mark":{"type":"bar","stroke":"#666666","strokeWidth":0.7},"encoding":{"y":{"field":"v","type":"quantitative","title":null,"scale":{"domain":[0,2],"nice":false},"axis":{"values":[0,1,2],"format":"d"}},"fill":{"field":"c","type":"nominal","title":"Vitamin C (mM)","scale":{"domain":["None","0.2","1","10"]}}}},
      {"mark":{"type":"rule","color":"#666666","strokeWidth":0.8},"encoding":{"y":{"field":"v","type":"quantitative","title":null},"y2":{"field":"hi"}}},
      {"mark":{"type":"tick","color":"#666666","thickness":0.8,"size":4},"encoding":{"y":{"field":"hi","type":"quantitative","title":null}}},
      {"transform":[{"filter":"isValid(datum.g)"}],"mark":{"type":"text","fill":"#000000","baseline":"alphabetic","dy":3,"fontSize":11},"encoding":{"y":{"field":"hi","type":"quantitative","title":null},"text":{"field":"g"}}}]},
    {"title":"Succinyl CoA","width":70,"height":52,"transform":[{"filter":"datum.m==='Succinyl CoA'"}],
     "encoding":{"x":{"field":"c","type":"nominal","title":null,"scale":{"domain":["None","0.2","1","10"],"paddingInner":0.62,"paddingOuter":0.25}}},
     "layer":[{"mark":{"type":"bar","stroke":"#666666","strokeWidth":0.7},"encoding":{"y":{"field":"v","type":"quantitative","title":null,"scale":{"domain":[0,2],"nice":false},"axis":{"values":[0,1,2],"format":"d"}},"fill":{"field":"c","type":"nominal","title":"Vitamin C (mM)","scale":{"domain":["None","0.2","1","10"]}}}},
      {"mark":{"type":"rule","color":"#666666","strokeWidth":0.8},"encoding":{"y":{"field":"v","type":"quantitative","title":null},"y2":{"field":"hi"}}},
      {"mark":{"type":"tick","color":"#666666","thickness":0.8,"size":4},"encoding":{"y":{"field":"hi","type":"quantitative","title":null}}},
      {"transform":[{"filter":"isValid(datum.g)"}],"mark":{"type":"text","fill":"#000000","baseline":"alphabetic","dy":3,"fontSize":11},"encoding":{"y":{"field":"hi","type":"quantitative","title":null},"text":{"field":"g"}}},
      {"transform":[{"filter":"isValid(datum.nd)"}],"mark":{"type":"text","fill":"#000000","fontSize":7.5,"fontWeight":"bold","align":"center","baseline":"middle"},"encoding":{"y":{"datum":0.5,"type":"quantitative"},"text":{"field":"nd"}}}]},
    {"title":"Fumarate","width":70,"height":52,"transform":[{"filter":"datum.m==='Fumarate'"}],
     "encoding":{"x":{"field":"c","type":"nominal","title":null,"scale":{"domain":["None","0.2","1","10"],"paddingInner":0.62,"paddingOuter":0.25}}},
     "layer":[{"mark":{"type":"bar","stroke":"#666666","strokeWidth":0.7},"encoding":{"y":{"field":"v","type":"quantitative","title":null,"scale":{"domain":[0,2],"nice":false},"axis":{"values":[0,1,2],"format":"d"}},"fill":{"field":"c","type":"nominal","title":"Vitamin C (mM)","scale":{"domain":["None","0.2","1","10"]}}}},
      {"mark":{"type":"rule","color":"#666666","strokeWidth":0.8},"encoding":{"y":{"field":"v","type":"quantitative","title":null},"y2":{"field":"hi"}}},
      {"mark":{"type":"tick","color":"#666666","thickness":0.8,"size":4},"encoding":{"y":{"field":"hi","type":"quantitative","title":null}}},
      {"transform":[{"filter":"isValid(datum.g)"}],"mark":{"type":"text","fill":"#000000","baseline":"alphabetic","dy":3,"fontSize":11},"encoding":{"y":{"field":"hi","type":"quantitative","title":null},"text":{"field":"g"}}}]},
    {"title":"Malate","width":70,"height":52,"transform":[{"filter":"datum.m==='Malate'"}],
     "encoding":{"x":{"field":"c","type":"nominal","title":null,"scale":{"domain":["None","0.2","1","10"],"paddingInner":0.62,"paddingOuter":0.25}}},
     "layer":[{"mark":{"type":"bar","stroke":"#666666","strokeWidth":0.7},"encoding":{"y":{"field":"v","type":"quantitative","title":null,"scale":{"domain":[0,2],"nice":false},"axis":{"values":[0,1,2],"format":"d"}},"fill":{"field":"c","type":"nominal","title":"Vitamin C (mM)","scale":{"domain":["None","0.2","1","10"]}}}},
      {"mark":{"type":"rule","color":"#666666","strokeWidth":0.8},"encoding":{"y":{"field":"v","type":"quantitative","title":null},"y2":{"field":"hi"}}},
      {"mark":{"type":"tick","color":"#666666","thickness":0.8,"size":4},"encoding":{"y":{"field":"hi","type":"quantitative","title":null}}},
      {"transform":[{"filter":"isValid(datum.g)"}],"mark":{"type":"text","fill":"#000000","baseline":"alphabetic","dy":3,"fontSize":11},"encoding":{"y":{"field":"hi","type":"quantitative","title":null},"text":{"field":"g"}}}]}
   ]},
   {"width":10,"height":114,"mark":{"type":"point","opacity":0,"size":1}},
   {"bounds":"flush","spacing":18.5,"hconcat":[
    {"title":"ATP","width":70,"height":52,"transform":[{"filter":"datum.m==='ATP'"}],
     "encoding":{"x":{"field":"c","type":"nominal","title":null,"scale":{"domain":["None","0.2","1","10"],"paddingInner":0.62,"paddingOuter":0.25}}},
     "layer":[{"mark":{"type":"bar","stroke":"#666666","strokeWidth":0.7},"encoding":{"y":{"field":"v","type":"quantitative","title":null,"scale":{"domain":[0,2],"nice":false},"axis":{"values":[0,1,2],"format":"d"}},"fill":{"field":"c","type":"nominal","title":"Vitamin C (mM)","scale":{"domain":["None","0.2","1","10"]}}}},
      {"mark":{"type":"rule","color":"#666666","strokeWidth":0.8},"encoding":{"y":{"field":"v","type":"quantitative","title":null},"y2":{"field":"hi"}}},
      {"mark":{"type":"tick","color":"#666666","thickness":0.8,"size":4},"encoding":{"y":{"field":"hi","type":"quantitative","title":null}}},
      {"transform":[{"filter":"isValid(datum.g)"}],"mark":{"type":"text","fill":"#000000","baseline":"alphabetic","dy":3,"fontSize":11},"encoding":{"y":{"field":"hi","type":"quantitative","title":null},"text":{"field":"g"}}}]},
    {"title":"ADP","width":70,"height":52,"transform":[{"filter":"datum.m==='ADP'"}],
     "encoding":{"x":{"field":"c","type":"nominal","title":null,"scale":{"domain":["None","0.2","1","10"],"paddingInner":0.62,"paddingOuter":0.25}}},
     "layer":[{"mark":{"type":"bar","stroke":"#666666","strokeWidth":0.7},"encoding":{"y":{"field":"v","type":"quantitative","title":null,"scale":{"domain":[0,4],"nice":false},"axis":{"values":[0,2,4],"format":"d"}},"fill":{"field":"c","type":"nominal","title":"Vitamin C (mM)","scale":{"domain":["None","0.2","1","10"]}}}},
      {"mark":{"type":"rule","color":"#666666","strokeWidth":0.8},"encoding":{"y":{"field":"v","type":"quantitative","title":null},"y2":{"field":"hi"}}},
      {"mark":{"type":"tick","color":"#666666","thickness":0.8,"size":4},"encoding":{"y":{"field":"hi","type":"quantitative","title":null}}},
      {"transform":[{"filter":"isValid(datum.g)"}],"mark":{"type":"text","fill":"#000000","baseline":"alphabetic","dy":3,"fontSize":11},"encoding":{"y":{"field":"hi","type":"quantitative","title":null},"text":{"field":"g"}}}]},
    {"title":"AMP","width":70,"height":52,"transform":[{"filter":"datum.m==='AMP'"}],
     "encoding":{"x":{"field":"c","type":"nominal","title":null,"scale":{"domain":["None","0.2","1","10"],"paddingInner":0.62,"paddingOuter":0.25}}},
     "layer":[{"mark":{"type":"bar","stroke":"#666666","strokeWidth":0.7},"encoding":{"y":{"field":"v","type":"quantitative","title":null,"scale":{"domain":[0,20],"nice":false},"axis":{"values":[0,10,20],"format":"d"}},"fill":{"field":"c","type":"nominal","title":"Vitamin C (mM)","scale":{"domain":["None","0.2","1","10"]}}}},
      {"mark":{"type":"rule","color":"#666666","strokeWidth":0.8},"encoding":{"y":{"field":"v","type":"quantitative","title":null},"y2":{"field":"hi"}}},
      {"mark":{"type":"tick","color":"#666666","thickness":0.8,"size":4},"encoding":{"y":{"field":"hi","type":"quantitative","title":null}}},
      {"transform":[{"filter":"isValid(datum.g)"}],"mark":{"type":"text","fill":"#000000","baseline":"alphabetic","dy":3,"fontSize":11},"encoding":{"y":{"field":"hi","type":"quantitative","title":null},"text":{"field":"g"}}}]},
    {"title":"Energy charge","width":70,"height":52,"transform":[{"filter":"datum.m==='Energy charge'"}],
     "encoding":{"x":{"field":"c","type":"nominal","title":null,"scale":{"domain":["None","0.2","1","10"],"paddingInner":0.62,"paddingOuter":0.25}}},
     "layer":[{"mark":{"type":"bar","stroke":"#666666","strokeWidth":0.7},"encoding":{"y":{"field":"v","type":"quantitative","title":null,"scale":{"domain":[0,2],"nice":false},"axis":{"values":[0,1],"format":"d"}},"fill":{"field":"c","type":"nominal","title":"Vitamin C (mM)","scale":{"domain":["None","0.2","1","10"]}}}},
      {"mark":{"type":"rule","color":"#666666","strokeWidth":0.8},"encoding":{"y":{"field":"v","type":"quantitative","title":null},"y2":{"field":"hi"}}},
      {"mark":{"type":"tick","color":"#666666","thickness":0.8,"size":4},"encoding":{"y":{"field":"hi","type":"quantitative","title":null}}},
      {"transform":[{"filter":"isValid(datum.g)"}],"mark":{"type":"text","fill":"#000000","baseline":"alphabetic","dy":3,"fontSize":11},"encoding":{"y":{"field":"hi","type":"quantitative","title":null},"text":{"field":"g"}}}]}
   ]},
   {"width":10,"height":12,"mark":{"type":"point","opacity":0,"size":1}},
   {"bounds":"flush","spacing":18.5,"hconcat":[
    {"title":"GTP","width":70,"height":52,"transform":[{"filter":"datum.m==='GTP'"}],
     "encoding":{"x":{"field":"c","type":"nominal","title":null,"scale":{"domain":["None","0.2","1","10"],"paddingInner":0.62,"paddingOuter":0.25}}},
     "layer":[{"mark":{"type":"bar","stroke":"#666666","strokeWidth":0.7},"encoding":{"y":{"field":"v","type":"quantitative","title":null,"scale":{"domain":[0,2],"nice":false},"axis":{"values":[0,1,2],"format":"d"}},"fill":{"field":"c","type":"nominal","title":"Vitamin C (mM)","scale":{"domain":["None","0.2","1","10"]}}}},
      {"mark":{"type":"rule","color":"#666666","strokeWidth":0.8},"encoding":{"y":{"field":"v","type":"quantitative","title":null},"y2":{"field":"hi"}}},
      {"mark":{"type":"tick","color":"#666666","thickness":0.8,"size":4},"encoding":{"y":{"field":"hi","type":"quantitative","title":null}}},
      {"transform":[{"filter":"isValid(datum.g)"}],"mark":{"type":"text","fill":"#000000","baseline":"alphabetic","dy":3,"fontSize":11},"encoding":{"y":{"field":"hi","type":"quantitative","title":null},"text":{"field":"g"}}}]},
    {"title":"GDP","width":70,"height":52,"transform":[{"filter":"datum.m==='GDP'"}],
     "encoding":{"x":{"field":"c","type":"nominal","title":null,"scale":{"domain":["None","0.2","1","10"],"paddingInner":0.62,"paddingOuter":0.25}}},
     "layer":[{"mark":{"type":"bar","stroke":"#666666","strokeWidth":0.7},"encoding":{"y":{"field":"v","type":"quantitative","title":null,"scale":{"domain":[0,4],"nice":false},"axis":{"values":[0,2,4],"format":"d"}},"fill":{"field":"c","type":"nominal","title":"Vitamin C (mM)","scale":{"domain":["None","0.2","1","10"]}}}},
      {"mark":{"type":"rule","color":"#666666","strokeWidth":0.8},"encoding":{"y":{"field":"v","type":"quantitative","title":null},"y2":{"field":"hi"}}},
      {"mark":{"type":"tick","color":"#666666","thickness":0.8,"size":4},"encoding":{"y":{"field":"hi","type":"quantitative","title":null}}},
      {"transform":[{"filter":"isValid(datum.g)"}],"mark":{"type":"text","fill":"#000000","baseline":"alphabetic","dy":3,"fontSize":11},"encoding":{"y":{"field":"hi","type":"quantitative","title":null},"text":{"field":"g"}}}]},
    {"title":"GMP","width":70,"height":52,"transform":[{"filter":"datum.m==='GMP'"}],
     "encoding":{"x":{"field":"c","type":"nominal","title":null,"scale":{"domain":["None","0.2","1","10"],"paddingInner":0.62,"paddingOuter":0.25}}},
     "layer":[{"mark":{"type":"bar","stroke":"#666666","strokeWidth":0.7},"encoding":{"y":{"field":"v","type":"quantitative","title":null,"scale":{"domain":[0,10],"nice":false},"axis":{"values":[0,5,10],"format":"d"}},"fill":{"field":"c","type":"nominal","title":"Vitamin C (mM)","scale":{"domain":["None","0.2","1","10"]}}}},
      {"mark":{"type":"rule","color":"#666666","strokeWidth":0.8},"encoding":{"y":{"field":"v","type":"quantitative","title":null},"y2":{"field":"hi"}}},
      {"mark":{"type":"tick","color":"#666666","thickness":0.8,"size":4},"encoding":{"y":{"field":"hi","type":"quantitative","title":null}}},
      {"transform":[{"filter":"isValid(datum.g)"}],"mark":{"type":"text","fill":"#000000","baseline":"alphabetic","dy":3,"fontSize":11},"encoding":{"y":{"field":"hi","type":"quantitative","title":null},"text":{"field":"g"}}}]}
   ]},
   {"width":10,"height":63,"mark":{"type":"point","opacity":0,"size":1}},
   {"bounds":"flush","spacing":19,"hconcat":[
    {"title":"GSH","width":70,"height":52,"transform":[{"filter":"datum.m==='GSH'"}],
     "encoding":{"x":{"field":"c","type":"nominal","title":null,"scale":{"domain":["None","0.2","1","10"],"paddingInner":0.62,"paddingOuter":0.25}}},
     "layer":[{"mark":{"type":"bar","stroke":"#666666","strokeWidth":0.7},"encoding":{"y":{"field":"v","type":"quantitative","title":null,"scale":{"domain":[0,2],"nice":false},"axis":{"values":[0,1,2],"format":"d"}},"fill":{"field":"c","type":"nominal","title":"Vitamin C (mM)","scale":{"domain":["None","0.2","1","10"]}}}},
      {"mark":{"type":"rule","color":"#666666","strokeWidth":0.8},"encoding":{"y":{"field":"v","type":"quantitative","title":null},"y2":{"field":"hi"}}},
      {"mark":{"type":"tick","color":"#666666","thickness":0.8,"size":4},"encoding":{"y":{"field":"hi","type":"quantitative","title":null}}},
      {"transform":[{"filter":"isValid(datum.g)"}],"mark":{"type":"text","fill":"#000000","baseline":"alphabetic","dy":3,"fontSize":11},"encoding":{"y":{"field":"hi","type":"quantitative","title":null},"text":{"field":"g"}}}]},
    {"title":"GSSG","width":70,"height":52,"transform":[{"filter":"datum.m==='GSSG'"}],
     "encoding":{"x":{"field":"c","type":"nominal","title":null,"scale":{"domain":["None","0.2","1","10"],"paddingInner":0.62,"paddingOuter":0.25}}},
     "layer":[{"mark":{"type":"bar","stroke":"#666666","strokeWidth":0.7},"encoding":{"y":{"field":"v","type":"quantitative","title":null,"scale":{"domain":[0,4],"nice":false},"axis":{"values":[0,2,4],"format":"d"}},"fill":{"field":"c","type":"nominal","title":"Vitamin C (mM)","scale":{"domain":["None","0.2","1","10"]}}}},
      {"mark":{"type":"rule","color":"#666666","strokeWidth":0.8},"encoding":{"y":{"field":"v","type":"quantitative","title":null},"y2":{"field":"hi"}}},
      {"mark":{"type":"tick","color":"#666666","thickness":0.8,"size":4},"encoding":{"y":{"field":"hi","type":"quantitative","title":null}}},
      {"transform":[{"filter":"isValid(datum.g)"}],"mark":{"type":"text","fill":"#000000","baseline":"alphabetic","dy":3,"fontSize":11},"encoding":{"y":{"field":"hi","type":"quantitative","title":null},"text":{"field":"g"}}}]},
    {"title":"GSH/GSSG","width":70,"height":52,"transform":[{"filter":"datum.m==='GSH/GSSG'"}],
     "encoding":{"x":{"field":"c","type":"nominal","title":null,"scale":{"domain":["None","0.2","1","10"],"paddingInner":0.62,"paddingOuter":0.25}}},
     "layer":[{"mark":{"type":"bar","stroke":"#666666","strokeWidth":0.7},"encoding":{"y":{"field":"v","type":"quantitative","title":null,"scale":{"domain":[0,2],"nice":false},"axis":{"values":[0,1,2],"format":"d"}},"fill":{"field":"c","type":"nominal","title":"Vitamin C (mM)","scale":{"domain":["None","0.2","1","10"]}}}},
      {"mark":{"type":"rule","color":"#666666","strokeWidth":0.8},"encoding":{"y":{"field":"v","type":"quantitative","title":null},"y2":{"field":"hi"}}},
      {"mark":{"type":"tick","color":"#666666","thickness":0.8,"size":4},"encoding":{"y":{"field":"hi","type":"quantitative","title":null}}},
      {"transform":[{"filter":"isValid(datum.g)"}],"mark":{"type":"text","fill":"#000000","baseline":"alphabetic","dy":3,"fontSize":11},"encoding":{"y":{"field":"hi","type":"quantitative","title":null},"text":{"field":"g"}}}]}
   ]}
  ]
 }
]
}
